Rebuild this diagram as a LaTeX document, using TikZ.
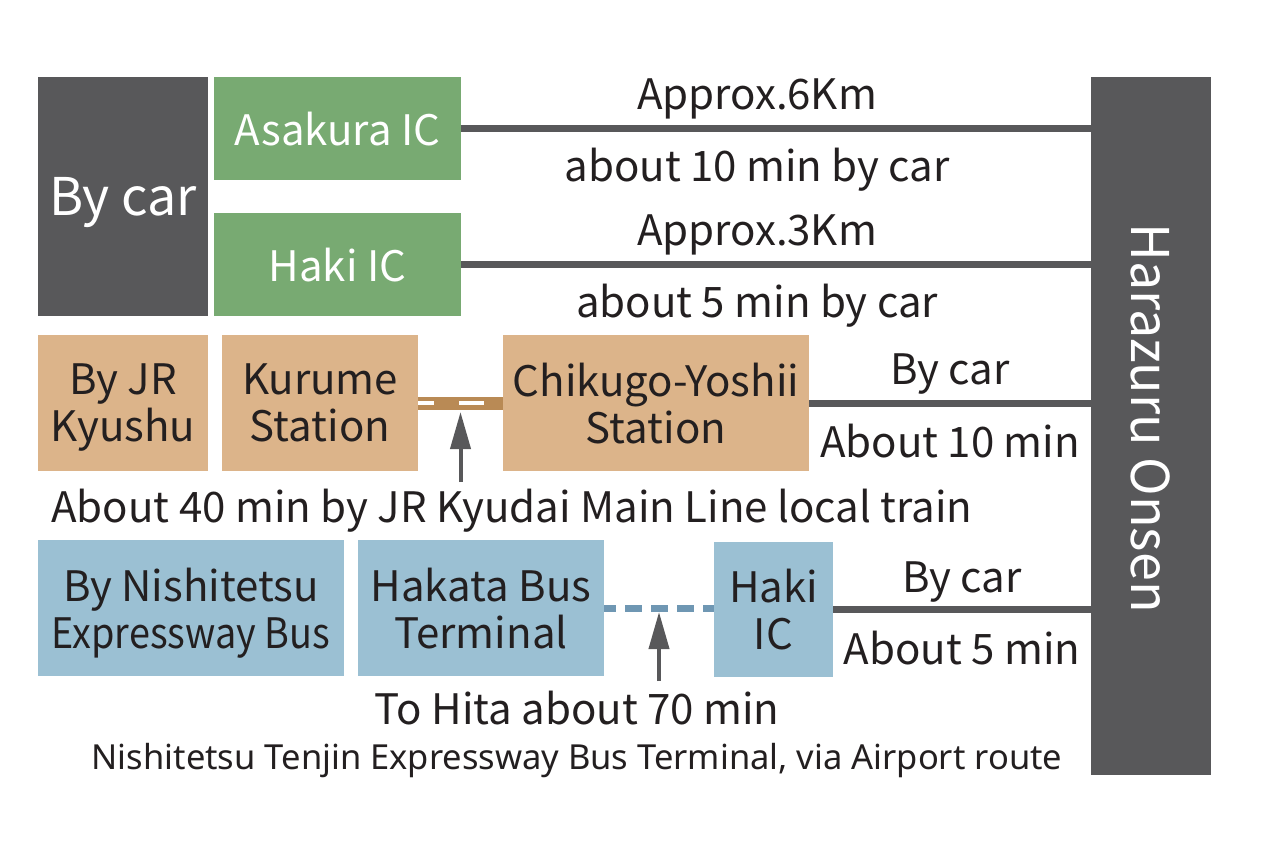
\documentclass[tikz,border=0pt]{standalone}
\usepackage{fontspec}
\usepackage{graphicx}
\setmainfont{Noto Sans CJK JP}
\newfontfamily\notefont{Noto Sans}
\usetikzlibrary{arrows.meta,calc}

\definecolor{cargray}{HTML}{58585A}
\definecolor{icgreen}{HTML}{78AA72}
\definecolor{jrtan}{HTML}{DCB48A}
\definecolor{jrbrown}{HTML}{B98A55}
\definecolor{busblue}{HTML}{9BC0D3}
\definecolor{busdash}{HTML}{6F97B3}
\definecolor{ink}{HTML}{231F20}

\begin{document}
\begin{tikzpicture}[x=1pt,y=-1pt,
  box/.style={inner sep=0pt,align=center,text depth=0pt,text=ink,font=\fontsize{42}{47}\selectfont},
  lbl/.style={inner sep=0pt,text=ink,font=\fontsize{42}{47}\selectfont},
  road/.style={draw=cargray,line width=7pt},
  uparrow/.style={draw=cargray,line width=4pt,-{Triangle[length=37pt,width=20pt]}}]

\useasboundingbox (0,0) rectangle (1263,852);

% boxes
\node[box,fill=cargray,text=white,minimum width=170,minimum height=239,font=\fontsize{52}{56}\selectfont] (bycar) at (123,196.5) {By car};
\node[box,fill=icgreen,text=white,minimum width=247,minimum height=103] (asakura) at (337.5,128.5) {Asakura IC};
\node[box,fill=icgreen,text=white,minimum width=247,minimum height=103] (hakig) at (337.5,264.5) {Haki IC};
\node[box,fill=cargray,text=white,minimum width=120,minimum height=698,font=\fontsize{52}{56}\selectfont] (onsen) at (1151,426) {\raisebox{\depth}{\rotatebox{-90}{Harazuru Onsen\hspace{16pt}}}};

\node[box,fill=jrtan,minimum width=170,minimum height=136] (jr) at (123,403) {By JR\\Kyushu};
\node[box,fill=jrtan,minimum width=196,minimum height=136] (kurume) at (320,403) {Kurume\\Station};
\node[box,fill=jrtan,minimum width=306,minimum height=136] (chikugo) at (656,403) {Chikugo-Yoshii\\Station};

\node[box,fill=busblue,minimum width=306,minimum height=136] (nishi) at (191,608) {By Nishitetsu\\\scalebox{0.9}[1]{Expressway Bus}};
\node[box,fill=busblue,minimum width=246,minimum height=136] (hakata) at (481,608) {Hakata Bus\\Terminal};
\node[box,fill=busblue,minimum width=119,minimum height=135] (hakib) at (773.5,609.5) {Haki\\IC};

% roads to the onsen
\path[road] (asakura.east) -- (asakura.east -| onsen.west)
  node[lbl,pos=0.47,above=6pt] {Approx.6Km}
  node[lbl,pos=0.47,below=16pt] {about 10 min by car};
\path[road] (hakig.east) -- (hakig.east -| onsen.west)
  node[lbl,pos=0.47,above=6pt] {Approx.3Km}
  node[lbl,pos=0.47,below=16pt] {about 5 min by car};
\path[road] (chikugo.east) -- (chikugo.east -| onsen.west)
  node[lbl,midway,above=5pt] {By car}
  node[lbl,midway,below=18pt] {About 10 min};
\path[road] (hakib.east) -- (hakib.east -| onsen.west)
  node[lbl,midway,above=4pt] {By car}
  node[lbl,midway,below=18pt] {About 5 min};

% train
\draw[jrbrown,line width=13pt] (kurume.east) -- (chikugo.west);
\draw[white,line width=4pt,dash pattern=on 25pt off 25pt,dash phase=9pt] (kurume.east) -- (chikugo.west);
\coordinate (train) at ($(kurume.east)!0.5!(chikugo.west)$);
\draw[uparrow] ($(train)+(0,79)$) -- ($(train)+(0,9)$);
\node[lbl,anchor=base] (trainnote) at (512,522) {About 40 min by JR Kyudai Main Line local train};

% bus
\draw[busdash,line width=7pt,dash pattern=on 17pt off 9pt,dash phase=5pt] (hakata.east) -- (hakata.east -| hakib.west);
\coordinate (bus) at ($(hakata.east)!0.5!(hakata.east -| hakib.west)$);
\draw[uparrow] ($(bus)+(0,73)$) -- ($(bus)+(0,4)$);
\node[lbl,anchor=base] (busnote) at (577,724) {To Hita about 70 min};
\node[lbl,anchor=base,font=\notefont\fontsize{34.5}{40}\selectfont] (busroute) at (577,769) {Nishitetsu Tenjin Expressway Bus Terminal, via Airport route};

\end{tikzpicture}
\end{document}
